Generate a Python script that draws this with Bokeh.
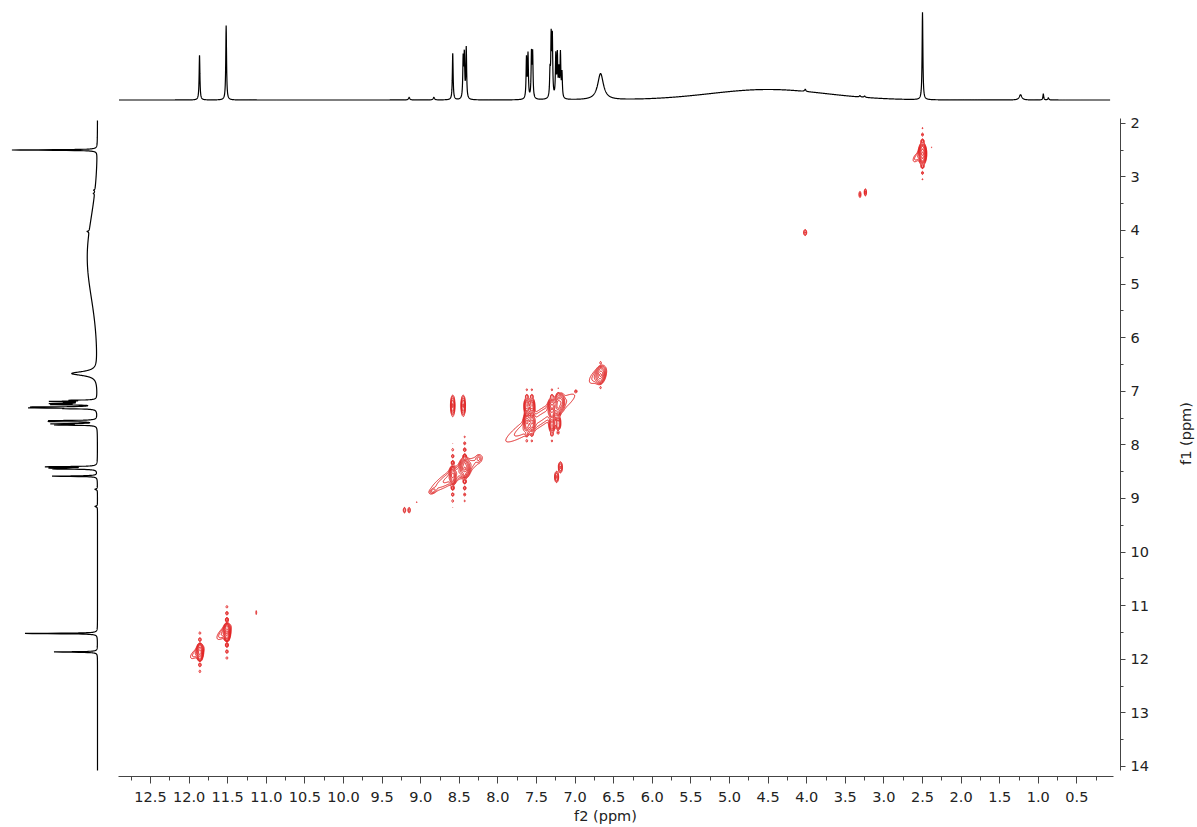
import numpy as np
from bokeh.plotting import figure
from bokeh.models import Range1d, SingleIntervalTicker, PrintfTickFormatter
from bokeh.core.properties import value
from bokeh.embed import file_html
from bokeh.resources import INLINE

# ---------------- 1D projection (1H spectrum) ----------------
proj_ppm = [11.865, 11.52, 9.15, 8.83, 8.585, 8.45, 8.435, 8.41, 7.63, 7.61, 7.565, 7.55,
            7.325, 7.31, 7.295, 7.25, 7.23, 7.21, 7.19, 7.17, 6.67, 4.02, 3.31, 3.25,
            2.50, 1.23, 0.935, 0.87]
proj_height = [51, 85, 3, 3, 53, 45, 48, 58, 46, 50, 50, 50,
               28, 67, 67, 48, 48, 30, 50, 28, 30, 2.5, 1.5, 1.5,
               100, 6, 7, 2.5]
proj_fwhm = [0.012, 0.012, 0.02, 0.02, 0.012, 0.012, 0.012, 0.012, 0.012, 0.012, 0.012, 0.012,
             0.012, 0.012, 0.012, 0.012, 0.012, 0.012, 0.012, 0.012, 0.09, 0.02, 0.02, 0.02,
             0.012, 0.04, 0.012, 0.015]
hump_center = [4.5]
hump_height = [12.0]
hump_sigma = [0.75]

# ---------------- 2D cross / diagonal peaks ----------------
gauss_f2 = [2.50, 2.57, 2.38, 3.31, 3.24, 4.02, 6.67, 6.71, 6.99,
            7.30, 7.22, 7.18, 7.30, 7.22, 7.625, 7.56, 7.625, 7.56, 7.45,
            8.585, 8.45, 7.19, 7.24, 8.585, 8.43, 8.55, 8.25, 8.84,
            9.21, 9.15, 9.05, 11.13, 11.51, 11.55, 11.86, 11.90]
gauss_f1 = [2.57, 2.63, 2.45, 3.33, 3.29, 4.04, 6.70, 6.70, 7.00,
            7.32, 7.25, 7.20, 7.62, 7.60, 7.58, 7.58, 7.28, 7.28, 7.50,
            7.27, 7.27, 8.42, 8.60, 8.57, 8.43, 8.55, 8.26, 8.86,
            9.22, 9.22, 9.07, 11.13, 11.50, 11.50, 11.87, 11.88]
gauss_amp = [1.00, 0.09, 0.05, 0.09, 0.12, 0.11, 0.55, 0.10, 0.06,
             0.90, 0.70, 0.45, 0.30, 0.20, 0.60, 0.60, 0.30, 0.30, 0.12,
             0.28, 0.28, 0.18, 0.18, 0.60, 0.85, 0.14, 0.08, 0.10,
             0.09, 0.09, 0.05, 0.06, 0.90, 0.12, 0.70, 0.10]
gauss_w2 = [0.022, 0.04, 0.006, 0.010, 0.010, 0.014, 0.030, 0.07, 0.008,
            0.022, 0.022, 0.020, 0.020, 0.020, 0.020, 0.020, 0.020, 0.020, 0.30,
            0.015, 0.015, 0.015, 0.015, 0.020, 0.030, 0.20, 0.020, 0.025,
            0.012, 0.012, 0.006, 0.006, 0.020, 0.06, 0.020, 0.06]
gauss_w1 = [0.085, 0.07, 0.012, 0.045, 0.045, 0.040, 0.075, 0.10, 0.015,
            0.080, 0.080, 0.070, 0.080, 0.070, 0.080, 0.080, 0.080, 0.080, 0.30,
            0.100, 0.100, 0.060, 0.060, 0.075, 0.080, 0.20, 0.040, 0.030,
            0.040, 0.040, 0.010, 0.040, 0.070, 0.09, 0.070, 0.08]
gauss_tilt = [0.0, 0.6, 0.0, 0.0, 0.0, 0.0, 0.2, 0.6, 0.0,
              0.0, 0.0, 0.0, 0.0, 0.0, 0.0, 0.0, 0.0, 0.0, 0.93,
              0.0, 0.0, 0.0, 0.0, 0.0, 0.0, 0.90, 0.0, 0.5,
              0.0, 0.0, 0.0, 0.0, 0.0, 0.7, 0.0, 0.7]

# t1-noise ridges (dotted vertical streaks)
chain_f2 = [2.50, 6.67, 7.625, 7.56, 7.30, 7.22, 8.585, 8.43, 11.51, 11.86]
chain_f1 = [2.57, 6.70, 7.45, 7.45, 7.45, 7.42, 8.57, 8.45, 11.50, 11.87]
chain_amp = [0.30, 0.15, 0.25, 0.25, 0.25, 0.20, 0.30, 0.35, 0.35, 0.25]
chain_decay = [0.25, 0.20, 0.30, 0.30, 0.30, 0.30, 0.30, 0.30, 0.27, 0.25]

contour_levels = [0.04 * 1.6 ** k for k in range(8)]

axis_titles = ["f2 (ppm)", "f1 (ppm)"]

# ---------------- build spectra ----------------
def spectrum(axis):
    s = np.zeros_like(axis)
    for c, h, w in zip(proj_ppm, proj_height, proj_fwhm):
        s += h / (1.0 + ((axis - c) / (w / 2.0)) ** 2)
    for c, h, sg in zip(hump_center, hump_height, hump_sigma):
        s += h * np.exp(-0.5 * ((axis - c) / sg) ** 2)
    return s

top_ppm = np.union1d(np.arange(0.07, 12.91, 0.002), [c for c in proj_ppm if 0.07 < c < 12.91])
top_int = spectrum(top_ppm)
left_ppm = np.union1d(np.arange(1.95, 14.08, 0.002), [c for c in proj_ppm if 1.95 < c < 14.08])
left_int = spectrum(left_ppm)

F2 = np.arange(0.0, 12.9, 0.006)
F1 = np.arange(1.95, 14.05, 0.01)
Z = np.zeros((F1.size, F2.size))

def win(arr, lo, hi):
    return int(np.searchsorted(arr, lo)), int(np.searchsorted(arr, hi))

for c2, c1, a, s2, s1, r in zip(gauss_f2, gauss_f1, gauss_amp, gauss_w2, gauss_w1, gauss_tilt):
    i0, i1 = win(F2, c2 - 5 * s2, c2 + 5 * s2)
    j0, j1 = win(F1, c1 - 5 * s1, c1 + 5 * s1)
    u = ((F2[i0:i1] - c2) / s2)[None, :]
    v = ((F1[j0:j1] - c1) / s1)[:, None]
    q = (u * u - 2 * r * u * v + v * v) / (1 - r * r)
    Z[j0:j1, i0:i1] += a * np.exp(-0.5 * q)

for c2, c1, a, L in zip(chain_f2, chain_f1, chain_amp, chain_decay):
    s2 = 0.012
    P = 0.12
    i0, i1 = win(F2, c2 - 5 * s2, c2 + 5 * s2)
    j0, j1 = win(F1, c1 - 8 * L, c1 + 8 * L)
    u = ((F2[i0:i1] - c2) / s2)[None, :]
    v = (F1[j0:j1] - c1)[:, None]
    Z[j0:j1, i0:i1] += a * np.exp(-0.5 * u * u) * np.exp(-np.abs(v) / L) * np.cos(np.pi * v / P) ** 2

# ---------------- figure (frame covers the whole canvas) ----------------
W, H = 1195, 825
PX_PER_PPM_X = 77.2
PX_PER_PPM_Y = 53.6

def sx_to_ppm(sx):
    return 12.5 - (sx - 150.0) / PX_PER_PPM_X

def sy_to_ppm(sy):
    return 2.0 + (sy - 122.7) / PX_PER_PPM_Y

p = figure(width=W, height=H,
           x_range=Range1d(sx_to_ppm(0), sx_to_ppm(W)),
           y_range=Range1d(sy_to_ppm(H), sy_to_ppm(0)),
           x_axis_location="below", y_axis_location="right",
           output_backend="svg", toolbar_location=None,
           min_border_left=0, min_border_top=0, min_border_right=0, min_border_bottom=0)
p.outline_line_color = None
p.xgrid.visible = False
p.ygrid.visible = False
p.background_fill_color = "white"
p.border_fill_color = "white"

# projection intensity scales: top (baseline y=99.5, 100 -> 0.875 px/unit), left (baseline x=97)
p.extra_y_ranges = {"top": Range1d((99.5 - H) / 0.875, 99.5 / 0.875)}
p.extra_x_ranges = {"left": Range1d(97.0 / 0.853, (97.0 - W) / 0.853)}

p.contour(x=F2, y=F1, z=Z, levels=contour_levels, line_color="#e01c1c", line_width=1)

p.line(top_ppm, top_int, y_range_name="top", line_color="black", line_width=1.2)
p.line(left_int, left_ppm, x_range_name="left", line_color="black", line_width=1.2)

FONT = "DejaVu Sans"
xa = p.xaxis[0]
xa.fixed_location = sy_to_ppm(776)
xa.ticker = SingleIntervalTicker(interval=0.5, num_minor_ticks=2)
xa.formatter = PrintfTickFormatter(format="%.1f")
xa.bounds = (0.02, 12.91)
xa.major_tick_out = 7
xa.major_tick_in = 0
xa.minor_tick_out = 4
xa.minor_tick_in = 0
xa.major_label_standoff = 8
ya = p.yaxis[0]
ya.fixed_location = sx_to_ppm(1120)
ya.ticker = SingleIntervalTicker(interval=1, num_minor_ticks=2)
ya.formatter = PrintfTickFormatter(format="%d")
ya.bounds = (1.92, 14.08)
ya.major_tick_out = 5
ya.major_tick_in = 0
ya.minor_tick_out = 3
ya.minor_tick_in = 0
ya.major_label_standoff = 5

for ax in (xa, ya):
    ax.axis_line_color = "#444444"
    ax.major_tick_line_color = "#444444"
    ax.minor_tick_line_color = "#444444"
    ax.major_label_text_font = FONT
    ax.major_label_text_font_size = "14.5px"
    ax.major_label_text_color = "#222222"

p.text(x=[sx_to_ppm(605)], y=[sy_to_ppm(815)], text=[axis_titles[0]],
       text_font=value(FONT), text_font_size="14.5px", text_color="#222222",
       text_align="center", text_baseline="middle")
p.text(x=[sx_to_ppm(1185)], y=[sy_to_ppm(433)], text=[axis_titles[1]], angle=np.pi / 2,
       text_font=value(FONT), text_font_size="14.5px", text_color="#222222",
       text_align="center", text_baseline="middle")

open("out.html", "w").write(file_html(p, INLINE))
